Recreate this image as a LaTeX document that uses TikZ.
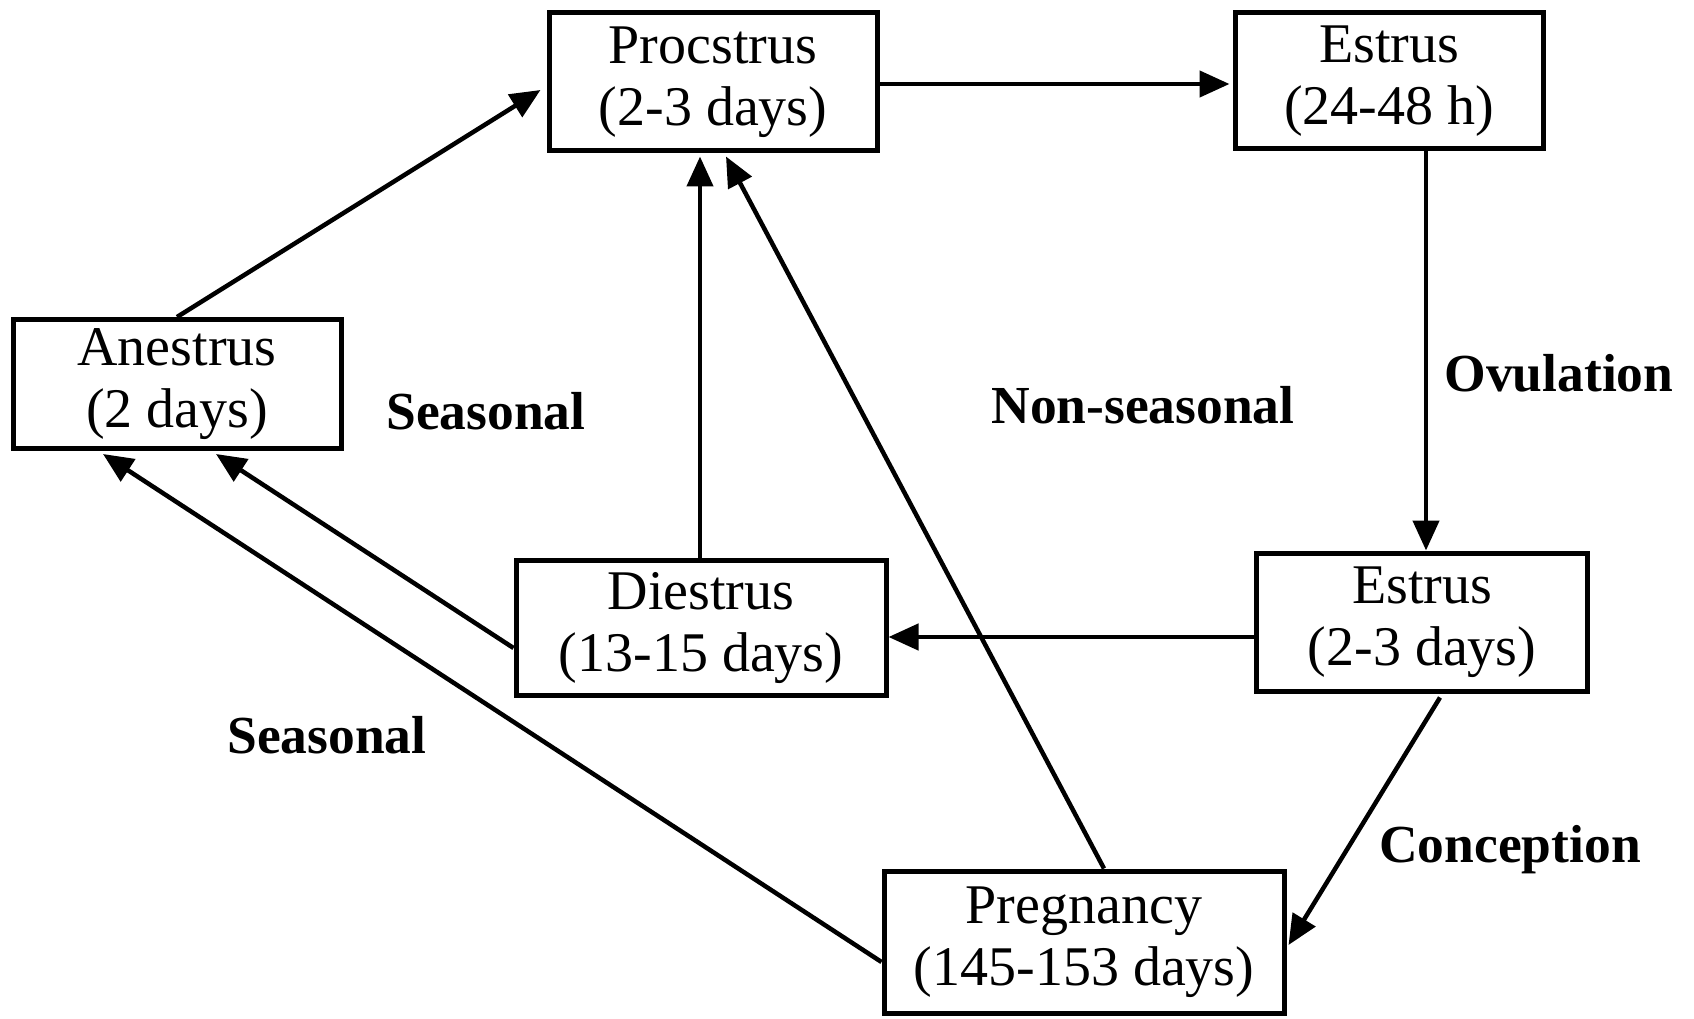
\documentclass[tikz,border=0pt]{standalone}
\usepackage{fontspec}
\setmainfont{Liberation Serif}
\usetikzlibrary{arrows.meta,calc}
\begin{document}
\begin{tikzpicture}[x=1pt,y=-1pt,
  stage/.style={draw,line width=5pt,align=center,inner sep=0pt,font=\fontsize{56}{62}\selectfont},
  lab/.style={font=\fontsize{53.5}{60}\selectfont\bfseries},
  arr/.style={line width=4.5pt,-{Triangle[length=30pt,width=26pt]}}]
\useasboundingbox[fill=white] (0,0) rectangle (1694,1019);
\node[stage,minimum width=328pt,minimum height=138pt] (pro) at (713,82) {Procstrus\\(2-3 days)};
\node[stage,minimum width=308pt,minimum height=136pt] (est1) at (1389,81) {Estrus\\(24-48 h)};
\node[stage,minimum width=328pt,minimum height=129pt] (ane) at (177,384) {Anestrus\\(2 days)};
\node[stage,minimum width=370pt,minimum height=135pt] (die) at (701,628) {Diestrus\\(13-15 days)};
\node[stage,minimum width=331pt,minimum height=138pt] (est2) at (1422,622) {Estrus\\(2-3 days)};
\node[stage,minimum width=400pt,minimum height=142pt] (preg) at (1084,942) {Pregnancy\\(145-153 days)};
\node[lab] (s1) at (486,411) {Seasonal};
\node[lab] (ns) at (1143,405) {Non-seasonal};
\node[lab] (ov) at (1559,373) {Ovulation};
\node[lab] (s2) at (327,735) {Seasonal};
\node[lab] (con) at (1510,850) {Conception};
\draw[arr] (ane.north) -- ($(pro.west)+(-6,8)$);
\draw[arr] ($(pro.east)+(0,2)$) -- ($(est1.west)+(-3,3)$);
\draw[arr] ($(est1.south)+(37,0)$) -- ($(est2.north)+(4,0)$);
\draw[arr] ($(est2.west)+(0,15)$) -- ($(die.east)+(0,9)$);
\draw[arr] ($(die.north)+(-1,0)$) -- ($(pro.south)+(-13,3)$);
\draw[arr] ($(preg.north)+(20,0)$) -- ($(pro.south)+(13,3)$);
\draw[arr] ($(die.west)+(0,20)$) -- ($(ane.south)+(39,3)$);
\draw[arr] ($(preg.west)+(0,20)$) -- ($(ane.south)+(-74,3)$);
\draw[arr] ($(est2.south)+(18,4)$) -- ($(preg.east)+(2,3)$);
\end{tikzpicture}
\end{document}
